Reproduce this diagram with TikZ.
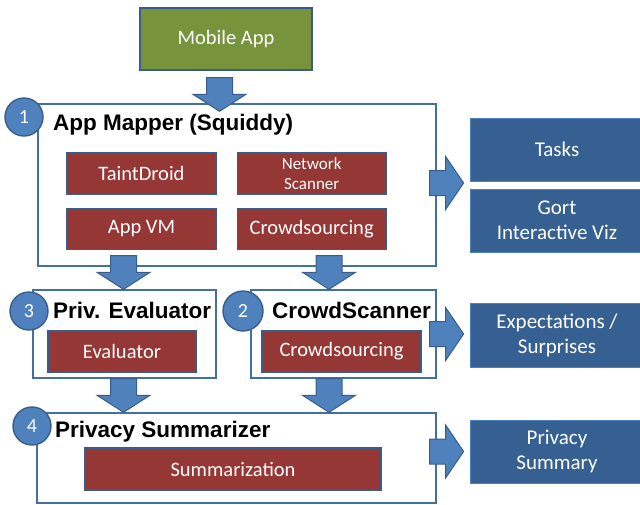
\documentclass[tikz,border=0pt]{standalone}
\usepackage{fontspec}
\setmainfont{Carlito}
\newfontfamily\headfont{Liberation Sans}
\usetikzlibrary{positioning}
\usetikzlibrary{calc}

\definecolor{edgeblue}{HTML}{41719C}
\definecolor{darkedge}{HTML}{385D8A}
\definecolor{arrowfill}{HTML}{4F81BD}
\definecolor{toolred}{HTML}{953735}
\definecolor{resultblue}{HTML}{376092}
\definecolor{appgreen}{HTML}{77933C}

\begin{document}
\begin{tikzpicture}[x=1pt,y=-1pt,
		stage/.style={draw=edgeblue, line width=1.4pt, fill=white, inner sep=0},
		tool/.style={draw=darkedge, line width=1.2pt, fill=toolred, text=white, align=center, inner sep=0,
			minimum height=41pt, font=\fontsize{20.5}{22}\selectfont},
		result/.style={draw=arrowfill, line width=0.8pt, fill=resultblue, text=white, align=center, inner sep=0,
			minimum width=174pt, font=\fontsize{21}{25}\selectfont},
		stepnum/.style={circle, draw=darkedge, line width=1.4pt, fill=arrowfill, text=white, inner sep=0,
			minimum size=38pt, font=\fontsize{20}{22}\selectfont},
		heading/.style={anchor=west, inner sep=0, font=\headfont\bfseries\fontsize{22.5}{24}\selectfont},
		downarrow/.style={draw=darkedge, fill=arrowfill, line width=1pt, to path={
			let \p1=(\tikztostart), \p2=(\tikztotarget) in
			(\x1-13pt,\y1) -- (\x1+13pt,\y1) -- (\x1+13pt,\y2+17pt) -- (\x1+26.5pt,\y2+17pt)
			-- (\x1,\y2) -- (\x1-26.5pt,\y2+17pt) -- (\x1-13pt,\y2+17pt) -- cycle}},
		rightarrow/.style={draw=darkedge, fill=arrowfill, line width=1pt, to path={
			let \p1=(\tikztostart), \p2=(\tikztotarget) in
			(\x1,\y1+12.5pt) -- (\x2-18pt,\y1+12.5pt) -- (\x2-18pt,\y1+26.5pt) -- (\x2,\y1)
			-- (\x2-18pt,\y1-26.5pt) -- (\x2-18pt,\y1-12.5pt) -- (\x1,\y1-12.5pt) -- cycle}}
	]
	\useasboundingbox (0,0) rectangle (640,504);

	% input app
	\node[draw=darkedge, line width=1.2pt, fill=appgreen, text=white, minimum width=172pt, minimum height=62pt,
		font=\fontsize{20.5}{22}\selectfont] (mobile) at (226,39) {\raisebox{-2pt}{Mobile App}};

	% stage boxes
	\node[stage, minimum width=398pt, minimum height=162pt] (mapper) at (237,185) {};
	\node[stage, minimum width=183pt, minimum height=88pt] (evalbox) at (124.5,334) {};
	\node[stage, minimum width=185pt, minimum height=88pt] (scanbox) at (343.5,334) {};
	\node[stage, minimum width=399pt, minimum height=90pt] (summbox) at (236.5,458) {};

	% tools inside the stages
	\node[tool, minimum width=149pt] (taint) at (141.5,173.5) {TaintDroid};
	\node[tool, minimum width=149pt, right=20pt of taint, font=\fontsize{17}{21}\selectfont] (netscan) {Network\\[-1pt]Scanner};
	\node[tool, minimum width=149pt, below=13pt of taint] (appvm) {App VM};
	\node[tool, minimum width=149pt, right=20pt of appvm] (crowdA) {Crowdsourcing};
	\node[tool, minimum width=148pt] (evaluator) at (122,351.5) {Evaluator};
	\node[tool, minimum width=159pt] (crowdB) at (341.5,351.5) {Crowdsourcing};
	\node[tool, minimum width=296pt, minimum height=42pt] (summ) at (233,469) {Summarization};

	% outputs
	\node[result, minimum height=63pt] (tasks) at (557,149.5) {Tasks};
	\node[result, minimum height=63pt] (gort) at (557,220.5) {Gort\\Interactive Viz};
	\node[result, minimum height=64pt] (expect) at (557,335) {Expectations /\\Surprises};
	\node[result, minimum height=63pt] (privsum) at (557,451.5) {Privacy\\Summary};

	% block arrows
	\draw[downarrow] ([xshift=-6.5pt,yshift=-7pt]mobile.south) to ([yshift=-8pt]mapper.north);
	\draw[downarrow] ([xshift=-113.5pt,yshift=11pt]mapper.south) to (evalbox.north);
	\draw[downarrow] ([xshift=92pt,yshift=11pt]mapper.south) to (scanbox.north);
	\draw[downarrow] ([xshift=-1pt]evalbox.south) to (summbox.north);
	\draw[downarrow] ([xshift=-14.5pt]scanbox.south) to (summbox.north);
	\draw[rightarrow] ([xshift=-7pt,yshift=2pt]mapper.east) to ([xshift=-6pt]tasks.west);
	\draw[rightarrow] ([xshift=-7pt]scanbox.east) to ([xshift=-6pt]expect.west);
	\draw[rightarrow] ([xshift=-7pt,yshift=6.5pt]summbox.east) to ([xshift=-6pt]privsum.west);

	% stage numbers and headings
	\node[stepnum] (n1) at (24,117) {1};
	\node[heading] (t1) at (53,125) {App Mapper (Squiddy)};
	\node[stepnum] (n3) at (29,311) {3};
	\node[heading] (t3) at (53,310) {Priv. Evaluator};
	\node[stepnum, minimum size=40pt] (n2) at (243,311) {2};
	\node[heading] (t2) at (272,310) {CrowdScanner};
	\node[stepnum] (n4) at (32,426) {4};
	\node[heading] (t4) at (55,432) {Privacy Summarizer};
\end{tikzpicture}
\end{document}
